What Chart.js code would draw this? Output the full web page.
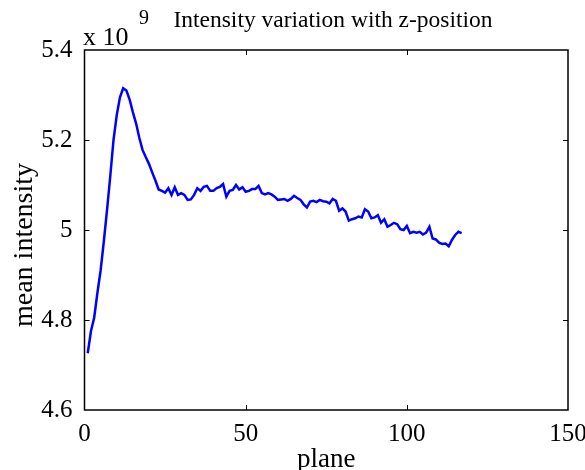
<!DOCTYPE html>
<html>
<head>
<meta charset="utf-8">
<script src="https://cdn.jsdelivr.net/npm/chart.js@4"></script>
<style>
  html, body { margin: 0; padding: 0; background: #fff; }
  #wrap { width: 585px; height: 470px; }
</style>
</head>
<body>
<div id="wrap"><canvas id="plot" width="585" height="470"></canvas></div>
<script>
// plane index (x) and mean intensity in units of 1e9 (y)
const planes = [
  1, 2, 3, 4, 5, 6, 7, 8, 9, 10, 11, 12, 13, 14, 15, 16, 17, 18, 19, 20,
  21, 22, 23, 24, 25, 26, 27, 28, 29, 30, 31, 32, 33, 34, 35, 36, 37, 38, 39, 40,
  41, 42, 43, 44, 45, 46, 47, 48, 49, 50, 51, 52, 53, 54, 55, 56, 57, 58, 59, 60,
  61, 62, 63, 64, 65, 66, 67, 68, 69, 70, 71, 72, 73, 74, 75, 76, 77, 78, 79, 80,
  81, 82, 83, 84, 85, 86, 87, 88, 89, 90, 91, 92, 93, 94, 95, 96, 97, 98, 99, 100,
  101, 102, 103, 104, 105, 106, 107, 108, 109, 110, 111, 112, 113, 114, 115, 116, 117
];
const meanIntensity = [
  4.726, 4.775, 4.805, 4.860, 4.910, 4.975, 5.045, 5.120, 5.200, 5.255,
  5.295, 5.315, 5.310, 5.290, 5.262, 5.237, 5.205, 5.178, 5.162, 5.147,
  5.128, 5.110, 5.090, 5.087, 5.083, 5.093, 5.078, 5.095, 5.078, 5.082,
  5.078, 5.067, 5.068, 5.078, 5.093, 5.087, 5.096, 5.098, 5.087, 5.087,
  5.093, 5.096, 5.102, 5.074, 5.087, 5.089, 5.100, 5.090, 5.095, 5.085,
  5.087, 5.091, 5.091, 5.098, 5.082, 5.079, 5.082, 5.079, 5.074, 5.067,
  5.068, 5.069, 5.065, 5.069, 5.076, 5.071, 5.067, 5.057, 5.050, 5.063,
  5.065, 5.062, 5.067, 5.064, 5.063, 5.059, 5.069, 5.065, 5.043, 5.048,
  5.041, 5.021, 5.024, 5.026, 5.030, 5.028, 5.046, 5.041, 5.026, 5.028,
  5.033, 5.016, 5.024, 5.007, 5.011, 5.016, 5.013, 5.002, 5.000, 5.009,
  4.993, 4.996, 4.994, 4.996, 4.990, 4.994, 5.007, 4.981, 4.979, 4.972,
  4.969, 4.970, 4.964, 4.978, 4.989, 4.996, 4.993
];
const xTicks = [0, 50, 100, 150];
const yTicks = [4.6, 4.8, 5.0, 5.2, 5.4];

const serif = '"Liberation Serif", "DejaVu Serif", serif';

// MATLAB style box: frame, inward ticks, titles
const matlabFrame = {
  id: 'matlabFrame',
  afterDraw(chart) {
    const { ctx, chartArea: a, scales: { x, y } } = chart;
    ctx.save();
    ctx.strokeStyle = '#000';
    ctx.lineWidth = 1.5;
    ctx.strokeRect(a.left, a.top, a.right - a.left, a.bottom - a.top);

    ctx.lineWidth = 1;
    ctx.beginPath();
    xTicks.slice(1, -1).forEach(v => {
      const px = Math.round(x.getPixelForValue(v)) + 0.5;
      ctx.moveTo(px, a.bottom); ctx.lineTo(px, a.bottom - 5);
      ctx.moveTo(px, a.top); ctx.lineTo(px, a.top + 5);
    });
    yTicks.slice(1, -1).forEach(v => {
      const py = Math.round(y.getPixelForValue(v)) + 0.5;
      ctx.moveTo(a.left, py); ctx.lineTo(a.left + 5, py);
      ctx.moveTo(a.right, py); ctx.lineTo(a.right - 5, py);
    });
    ctx.stroke();

    ctx.fillStyle = '#000';
    ctx.textAlign = 'center';
    ctx.textBaseline = 'alphabetic';
    ctx.font = '23.5px ' + serif;
    ctx.fillText('Intensity variation with z-position', 333, 27);

    ctx.textAlign = 'left';
    ctx.font = '26px ' + serif;
    ctx.fillText('x 10', 83, 45);
    ctx.font = '20px ' + serif;
    ctx.fillText('9', 139, 24);

    ctx.textAlign = 'center';
    ctx.font = '27px ' + serif;
    ctx.fillText('plane', (a.left + a.right) / 2, 467);

    ctx.translate(32, 245);
    ctx.rotate(-Math.PI / 2);
    ctx.font = '28px ' + serif;
    ctx.fillText('mean intensity', 0, 0);
    ctx.restore();
  }
};

new Chart(document.getElementById('plot'), {
  type: 'line',
  data: {
    datasets: [{
      data: planes.map((p, i) => ({ x: p, y: meanIntensity[i] })),
      borderColor: '#0000ff',
      borderWidth: 2.5,
      pointRadius: 0,
      tension: 0,
      fill: false
    }]
  },
  options: {
    responsive: false,
    animation: false,
    layout: { padding: { top: 50, right: 17, left: 0, bottom: 0 } },
    plugins: { legend: { display: false }, tooltip: { enabled: false } },
    scales: {
      x: {
        type: 'linear',
        min: 0, max: 150,
        afterFit: s => { s.height = 60; s.paddingLeft = 0; s.paddingRight = 0; },
        afterBuildTicks: s => { s.ticks = xTicks.map(v => ({ value: v })); },
        grid: { display: false },
        border: { display: false },
        ticks: { color: '#000', padding: 1, maxRotation: 0, font: { family: serif, size: 25 } }
      },
      y: {
        min: 4.6, max: 5.4,
        afterFit: s => { s.width = 84.5; s.paddingTop = 0; s.paddingBottom = 0; },
        afterBuildTicks: s => { s.ticks = yTicks.map(v => ({ value: v })); },
        grid: { display: false },
        border: { display: false },
        ticks: {
          color: '#000', padding: 4, font: { family: serif, size: 25 },
          callback: v => String(Number(v.toFixed(1)))
        }
      }
    }
  },
  plugins: [matlabFrame]
});
</script>
</body>
</html>
